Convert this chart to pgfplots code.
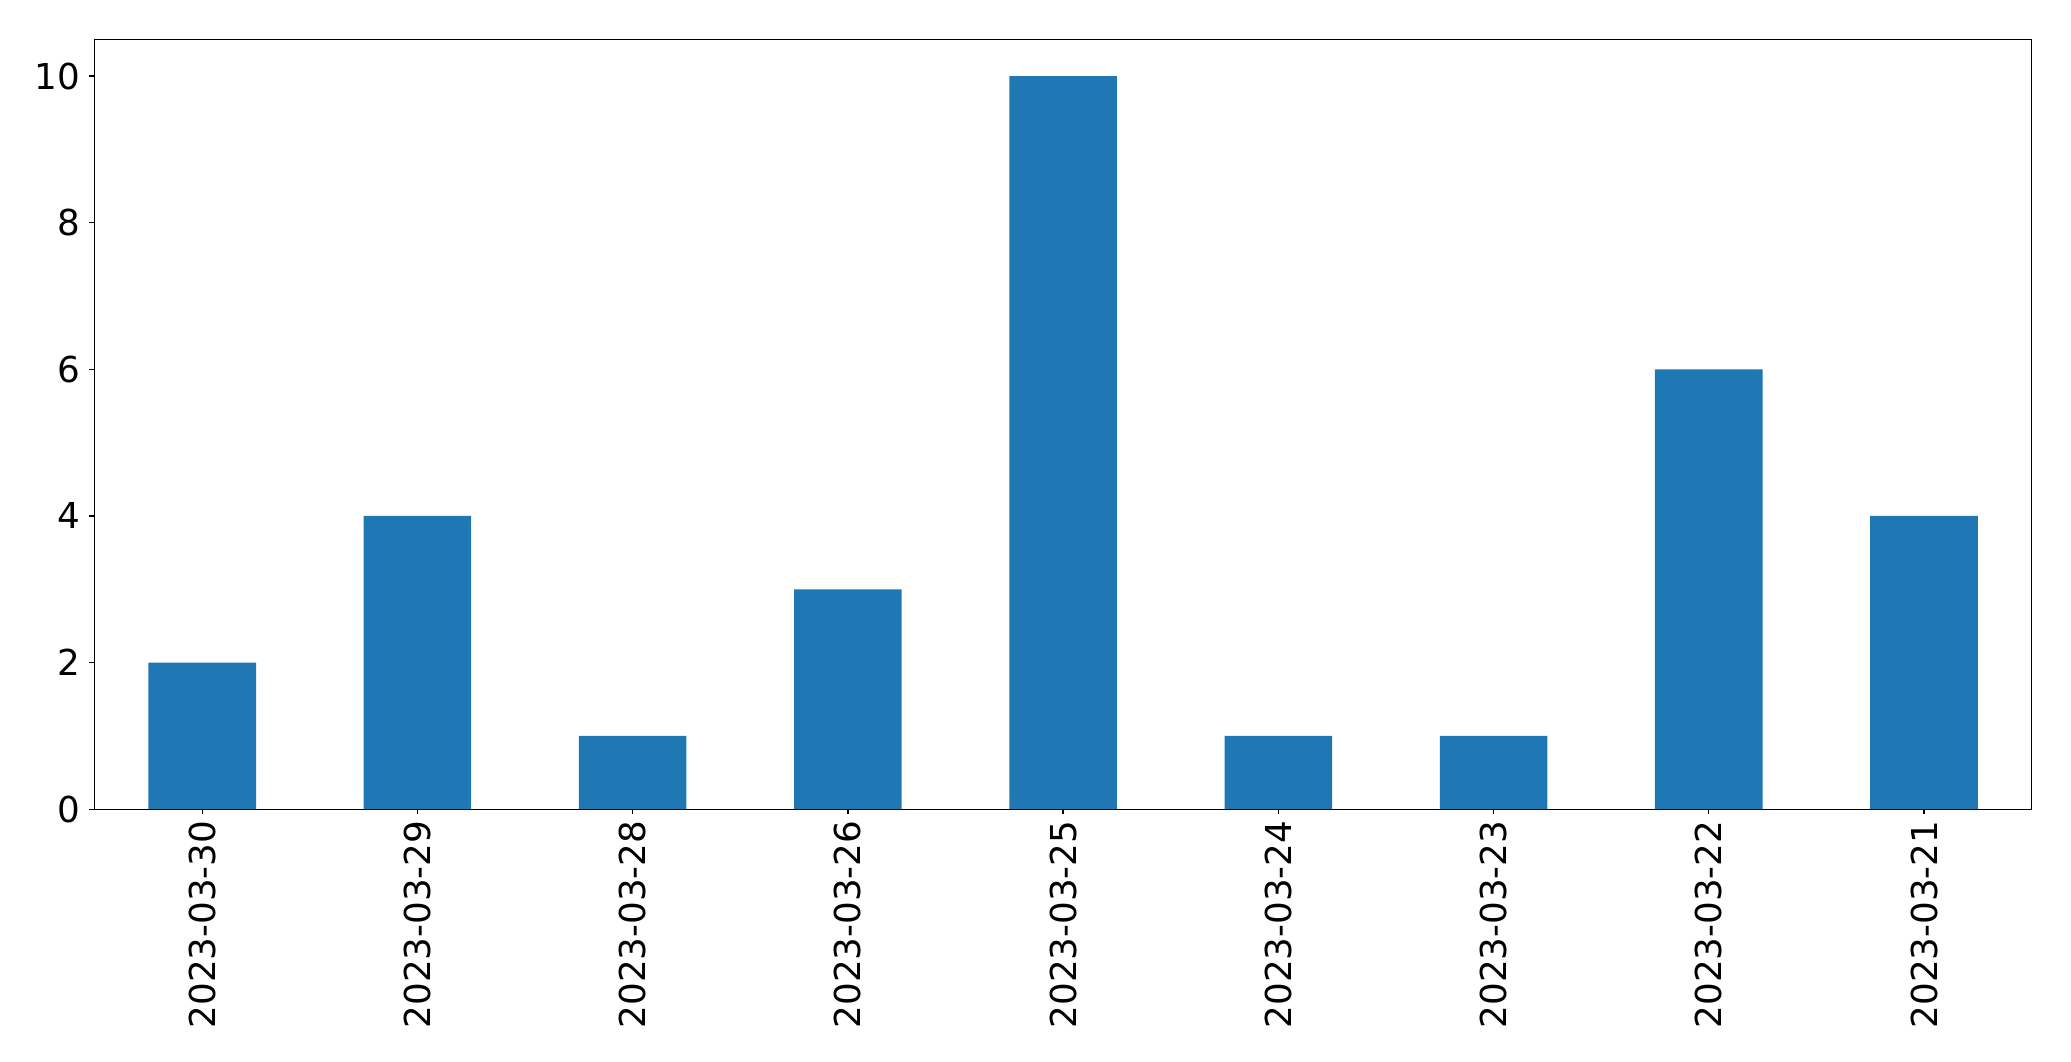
\documentclass[border=0pt]{standalone}
\usepackage{pgfplots}
\pgfplotsset{compat=1.18}
\usepackage{fontspec}
\setmainfont{DejaVu Sans}
\definecolor{mplblue}{HTML}{1F77B4}
\begin{document}
\begin{tikzpicture}
\begin{axis}[
  at={(0pt,0pt)}, anchor=south west,
  width=968.5pt, height=384.9pt, scale only axis,
  xmin=-0.5, xmax=8.5, ymin=0, ymax=10.5,
  xtick={0,1,2,3,4,5,6,7,8},
  xticklabels={2023-03-30,2023-03-29,2023-03-28,2023-03-26,2023-03-25,2023-03-24,2023-03-23,2023-03-22,2023-03-21},
  ytick={0,2,4,6,8,10},
  tick align=outside, major tick length=2.6pt,
  tick style={black, line width=0.7pt},
  axis line style={black, line width=0.7pt},
  tick pos=left,
  /pgf/number format/assume math mode=true,
  ticklabel style={font=\fontsize{17.85}{20}\selectfont},
  xticklabel style={rotate=90, anchor=east, inner sep=0pt, xshift=-3pt},
  yticklabel style={anchor=east, inner sep=0pt, xshift=-4.5pt},
]
\addplot[ybar, bar width=0.5, fill=mplblue, draw=none] coordinates {
(0,2) (1,4) (2,1) (3,3) (4,10) (5,1) (6,1) (7,6) (8,4)
};
\end{axis}
\path (-47.3pt,-126pt) rectangle (988.2pt,404.6pt);
\end{tikzpicture}
\end{document}
